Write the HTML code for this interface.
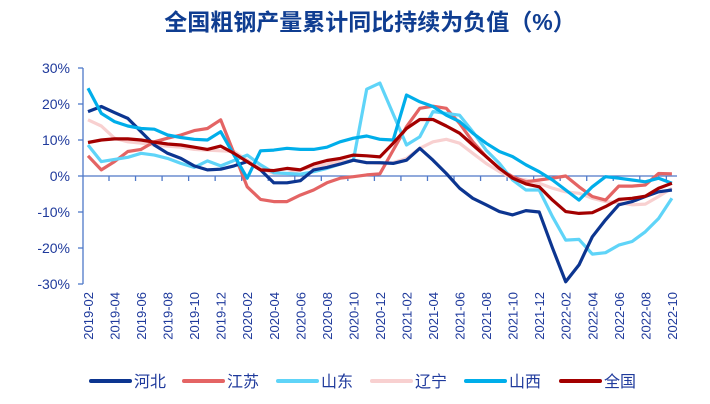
<!DOCTYPE html>
<html><head><meta charset="utf-8"><style>
html,body{margin:0;padding:0;background:#fff;}
svg{display:block;font-family:"Liberation Sans","Noto Sans CJK SC",sans-serif;}
</style></head><body>
<svg id="c" width="710" height="404" viewBox="0 0 710 404" xmlns="http://www.w3.org/2000/svg">
<text x="370" y="30" text-anchor="middle" font-size="23" font-weight="bold" fill="#0f3d91" font-family="Liberation Sans,Noto Sans CJK SC,sans-serif">全国粗钢产量累计同比持续为负值（%）</text>
</svg>
<script>
var s=document.getElementById('c'),ns='http://www.w3.org/2000/svg';
function el(t,a,txt){var e=document.createElementNS(ns,t);for(var k in a)e.setAttribute(k,a[k]);if(txt)e.textContent=txt;s.appendChild(e);return e;}
function X(i){return 88+13.27*i;}function Y(v){return 176-3.6*v;}
var axc='#4f78c8',tc='#1f3a9c';
el('line',{x1:83,y1:68,x2:83,y2:284,stroke:axc,'stroke-width':1.3});
[30,20,10,0,-10,-20,-30].forEach(function(v){var y=Y(v);el('line',{x1:78,y1:y,x2:83,y2:y,stroke:axc,'stroke-width':1.3});
el('text',{x:70,y:y+5,'text-anchor':'end','font-size':14,fill:tc},v+'%');});
el('line',{x1:83,y1:176,x2:677,y2:176,stroke:axc,'stroke-width':1.3});
for(var k=0;k<22;k++){var x=109+26.54*k;el('line',{x1:x,y1:176,x2:x,y2:181,stroke:axc,'stroke-width':1.3});}
for(var k=0;k<23;k++){var m=2+2*k,yr=2019+Math.floor((m-1)/12),mo=((m-1)%12)+1;var x=X(2*k)+5;
el('text',{x:0,y:0,transform:'translate('+x+',292) rotate(-90)','text-anchor':'end','font-size':13,fill:tc},yr+'-'+(mo<10?'0':'')+mo);}
var D={
hb:[17.9,19.3,17.6,16,12.3,8.6,6.3,4.9,2.8,1.7,1.9,2.8,4,1.7,-1.9,-1.9,-1.3,1.7,2.4,3.3,4.4,3.7,3.7,3.5,4.4,7.7,4.4,0.7,-3.4,-6.2,-8,-9.9,-10.8,-9.6,-10,-20,-29.4,-24.7,-16.9,-12.2,-8,-7.1,-5.7,-4.4,-3.9],
js:[5.6,1.7,4,6.8,7.4,9.5,10.5,11.4,12.6,13.2,15.6,6.3,-3,-6.5,-7.1,-7.1,-5.3,-3.9,-1.9,-0.6,-0.2,0.3,0.6,7.2,13.7,18.8,19.4,18.8,14.6,9.5,5.4,2.1,-0.2,-1.6,-1.1,-0.6,0,-3,-5.7,-6.7,-2.8,-2.8,-2.5,0.7,0.6],
sd:[8.6,4,4.6,5.2,6.3,5.8,4.9,3.5,2.4,4.2,2.8,4.3,5.8,3.1,0.9,0.7,0.5,1.2,2.1,3.3,4.4,24.1,25.8,17.2,8.6,10.9,17.9,17.4,16.9,12.3,7.2,3.5,-1.1,-3.9,-3.9,-11.3,-17.8,-17.6,-21.7,-21.3,-19.2,-18.2,-15.5,-11.8,-6.2],
ln:[15.6,13.9,10.5,9.5,9.1,8.6,8.3,8,7.4,7.2,7,6.8,4.4,2.1,0.7,0.7,1.7,2.6,3.3,4,4.4,3.7,3.5,3.7,4.9,7.7,9.5,10.2,9.1,6.3,3.5,1.2,-0.6,-1.1,-2,-3.4,-4.4,-4.8,-6.2,-7.1,-7.4,-8,-7.8,-5.7,-3.4],
sx:[24.4,17.4,15.1,13.9,13.2,13,11.4,10.7,10.2,10,12.3,5.8,-0.6,7,7.2,7.7,7.4,7.4,8,9.5,10.5,11.1,10.2,10,22.5,20.6,19.3,16.9,15.1,11.9,9.1,6.8,5.4,3.1,1.2,-1.1,-3.9,-6.7,-3,-0.2,-0.6,-1.1,-1.6,-0.6,-2],
qg:[9.3,10,10.3,10.3,10,9.4,8.9,8.6,8,7.4,8.3,6.3,4,1.7,1.5,2.1,1.7,3.3,4.3,4.9,5.8,5.6,5.3,9.1,13.2,15.7,15.7,13.9,11.9,8.6,5.4,2.1,-0.6,-2.2,-3,-6.7,-9.9,-10.4,-10.2,-8.5,-6.5,-6.2,-5.6,-3.4,-2]};
var S=[['ln','#f8d0d0','辽宁'],['js','#e46464','江苏'],['sd','#5fd4f8','山东'],['hb','#0c3590','河北'],['sx','#00aeea','山西'],['qg','#a30000','全国']];
S.forEach(function(q){el('polyline',{points:D[q[0]].map(function(v,i){return X(i).toFixed(1)+','+Y(v).toFixed(1)}).join(' '),fill:'none',stroke:q[1],'stroke-width':3.2,'stroke-linejoin':'round'});});
var L=[['#0c3590','河北',91],['#e46464','江苏',184],['#5fd4f8','山东',278],['#f8d0d0','辽宁',372],['#00aeea','山西',466],['#a30000','全国',561]];
L.forEach(function(q){el('line',{x1:q[2],y1:381,x2:q[2]+39,y2:381,stroke:q[0],'stroke-width':4,'stroke-linecap':'round'});
el('text',{x:q[2]+43,y:387,'font-size':16,fill:tc},q[1]);});
</script>
</body></html>
